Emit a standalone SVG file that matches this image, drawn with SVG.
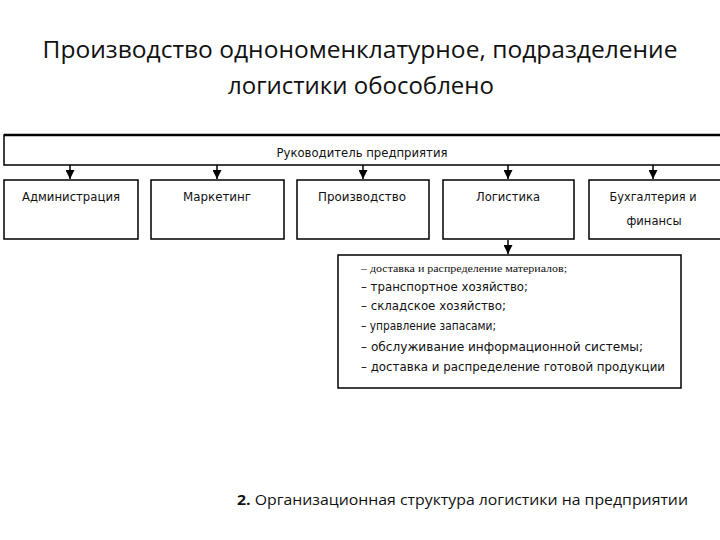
<svg xmlns="http://www.w3.org/2000/svg" width="720" height="540" viewBox="0 0 720 540">
<style>
.box{fill:#fff;stroke:#000;stroke-width:1.5}
.lbl{font-family:"DejaVu Sans","Liberation Sans",sans-serif;font-size:11.5px;fill:#111;text-anchor:middle}
.lst{font-family:"DejaVu Sans","Liberation Sans",sans-serif;font-size:11.5px;fill:#111}
.title{font-family:"Open Sans","Liberation Sans",sans-serif;font-size:23px;fill:#111;text-anchor:middle}
.conn{stroke:#000;stroke-width:1.5;fill:none}
</style>
<defs>
<marker id="ah" viewBox="0 0 10 10" refX="10" refY="5" markerWidth="9" markerHeight="9" orient="auto" markerUnits="userSpaceOnUse">
<path d="M0,0 L10,5 L0,10 z" fill="#000"/>
</marker>
</defs>
<rect width="720" height="540" fill="#fff"/>
<g id="title">
<text class="title" x="360" y="58" textLength="635" lengthAdjust="spacingAndGlyphs">Производство однономенклатурное, подразделение</text>
<text class="title" x="361" y="94" textLength="266" lengthAdjust="spacingAndGlyphs">логистики обособлено</text>
</g>
<g id="connectors">
<line class="conn" x1="70" y1="165" x2="70" y2="179" marker-end="url(#ah)"/>
<line class="conn" x1="217" y1="165" x2="217" y2="179" marker-end="url(#ah)"/>
<line class="conn" x1="363" y1="165" x2="363" y2="179" marker-end="url(#ah)"/>
<line class="conn" x1="508" y1="165" x2="508" y2="179" marker-end="url(#ah)"/>
<line class="conn" x1="653" y1="165" x2="653" y2="179" marker-end="url(#ah)"/>
<line class="conn" x1="508" y1="240" x2="508" y2="254" marker-end="url(#ah)"/>
</g>
<g id="head">
<rect class="box" x="4" y="135" width="720" height="30"/>
<line x1="4" y1="135" x2="720" y2="135" stroke="#000" stroke-width="2.5"/>
<text class="lbl" x="362" y="157" textLength="171" lengthAdjust="spacingAndGlyphs">Руководитель предприятия</text>
</g>
<g id="admin">
<rect class="box" x="4" y="180" width="134" height="59"/>
<text class="lbl" x="71" y="201" textLength="98" lengthAdjust="spacingAndGlyphs">Администрация</text>
</g>
<g id="marketing">
<rect class="box" x="151" y="180" width="133" height="59"/>
<text class="lbl" x="217" y="201" textLength="68" lengthAdjust="spacingAndGlyphs">Маркетинг</text>
</g>
<g id="production">
<rect class="box" x="297" y="180" width="132" height="59"/>
<text class="lbl" x="362" y="201" textLength="88" lengthAdjust="spacingAndGlyphs">Производство</text>
</g>
<g id="logistics">
<rect class="box" x="443" y="180" width="131" height="59"/>
<text class="lbl" x="508" y="201" textLength="64" lengthAdjust="spacingAndGlyphs">Логистика</text>
</g>
<g id="finance">
<rect class="box" x="589" y="180" width="140" height="59"/>
<text class="lbl" x="653" y="201" textLength="87" lengthAdjust="spacingAndGlyphs">Бухгалтерия и</text>
<text class="lbl" x="654" y="225" textLength="55" lengthAdjust="spacingAndGlyphs">финансы</text>
</g>
<g id="functions">
<rect class="box" x="338" y="255" width="343" height="133"/>
<text class="lst" x="361" y="272" style="font-size:10px;font-family:'Liberation Serif',serif" textLength="206" lengthAdjust="spacingAndGlyphs">– доставка и распределение материалов;</text>
<text class="lst" x="361" y="291" textLength="167" lengthAdjust="spacingAndGlyphs">– транспортное хозяйство;</text>
<text class="lst" x="361" y="310" textLength="145" lengthAdjust="spacingAndGlyphs">– складское хозяйство;</text>
<text class="lst" x="361" y="330" textLength="135" lengthAdjust="spacingAndGlyphs">– управление запасами;</text>
<text class="lst" x="361" y="351" textLength="282" lengthAdjust="spacingAndGlyphs">– обслуживание информационной системы;</text>
<text class="lst" x="361" y="371" textLength="304" lengthAdjust="spacingAndGlyphs">– доставка и распределение готовой продукции</text>
</g>
<g id="caption">
<text x="237" y="505" style="font-family:'Open Sans','Liberation Sans',sans-serif;font-size:15px;fill:#111" textLength="451" lengthAdjust="spacingAndGlyphs"><tspan font-weight="bold">2.</tspan> Организационная структура логистики на предприятии</text>
</g>
</svg>
